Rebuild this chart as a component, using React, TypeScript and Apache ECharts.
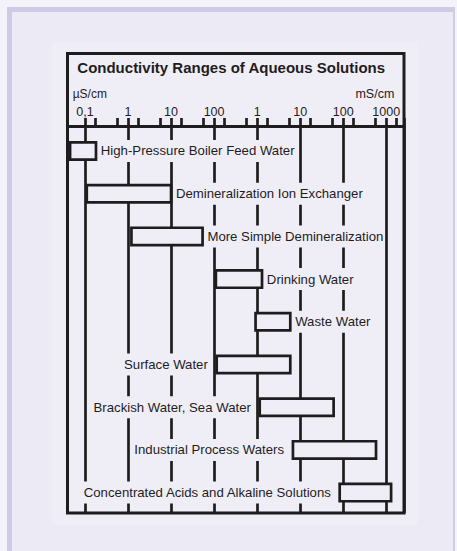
import React, { useEffect, useRef } from 'react';
import * as echarts from 'echarts';

// Conductivity ranges, in µS/cm
const rowNames = [
  'High-Pressure Boiler Feed Water',
  'Demineralization Ion Exchanger',
  'More Simple Demineralization',
  'Drinking Water',
  'Waste Water',
  'Surface Water',
  'Brackish Water, Sea Water',
  'Industrial Process Waters',
  'Concentrated Acids and Alkaline Solutions',
];
const rangeLow = [0.045, 0.11, 1.2, 110, 920, 115, 1150, 6800, 83000];
const rangeHigh = [0.18, 10, 54, 1300, 5900, 5900, 60000, 580000, 1300000];
const labelSide = ['right', 'right', 'right', 'right', 'right', 'left', 'left', 'left', 'left'];

const majorTickValues = [0.1, 1, 10, 100, 1000, 10000, 100000, 1000000];
const majorTickLabels = ['0,1', '1', '10', '100', '1', '10', '100', '1000'];
const minorTickValues = [
  0.17, 0.55, 1.7, 5.5, 17, 55, 170, 550, 1700, 5500, 17000, 55000, 170000, 550000, 1700000,
];
const unitLeft = 'µS/cm';
const unitRight = 'mS/cm';
const titleText = 'Conductivity Ranges of Aqueous Solutions';

const axisMin = 0.0392;
const axisMax = 2593000;

const INK = '#1f1c1d';
const PANEL = '#efeef7';
const FONT = '"Liberation Sans", Arial, Helvetica, sans-serif';

function tickLabel(v: number): string {
  for (let i = 0; i < majorTickValues.length; i++) {
    if (Math.abs(Math.log10(v) - Math.log10(majorTickValues[i])) < 0.01) return majorTickLabels[i];
  }
  return '';
}

export default function App() {
  const ref = useRef<HTMLDivElement>(null);
  useEffect(() => {
    if (!ref.current) return;
    const chart = echarts.init(ref.current, undefined, { renderer: 'svg', width: 457, height: 551 });
    const data = rowNames.map((n, i) => [rangeLow[i], rangeHigh[i], i]);
    const gridBox = { left: 67.5, right: 53, top: 126, bottom: 38 };
    const option: any = {
      animation: false,
      backgroundColor: 'transparent',
      grid: [
        { ...gridBox, containLabel: false },
        { ...gridBox, containLabel: false },
      ],
      xAxis: [
        {
          type: 'log',
          gridIndex: 0,
          position: 'top',
          min: axisMin,
          max: axisMax,
          axisLine: { show: true, onZero: false, lineStyle: { color: INK, width: 3 } },
          axisTick: { show: true, inside: false, length: 8, lineStyle: { color: INK, width: 2.7 } },
          axisLabel: {
            show: true,
            margin: 8,
            formatter: (v: number) => tickLabel(v),
            color: INK,
            fontSize: 12.5,
            fontFamily: FONT,
          },
          splitLine: { show: true, lineStyle: { color: INK, width: 2.7 } },
        },
        {
          type: 'log',
          gridIndex: 1,
          position: 'top',
          min: axisMin,
          max: axisMax,
          axisLine: { show: false, onZero: false },
          axisTick: {
            show: true,
            inside: false,
            length: 8,
            customValues: minorTickValues,
            lineStyle: { color: INK, width: 2.7 },
          },
          axisLabel: { show: false },
          splitLine: { show: false },
        },
      ],
      yAxis: [
        { type: 'value', gridIndex: 0, inverse: true, min: -0.585, max: 8.478, show: false },
        { type: 'value', gridIndex: 1, inverse: true, min: -0.585, max: 8.478, show: false },
      ],
      graphic: [
        { type: 'rect', z: -100, silent: true, shape: { x: 0, y: 0, width: 457, height: 551 }, style: { fill: '#f4f3f9' } },
        { type: 'rect', z: -99, silent: true, shape: { x: 7, y: 7, width: 448, height: 544 }, style: { fill: '#cfcbe5' } },
        { type: 'rect', z: -98, silent: true, shape: { x: 12, y: 12, width: 441, height: 539 }, style: { fill: '#eceaf4' } },
        { type: 'rect', z: -97, silent: true, shape: { x: 52, y: 42, width: 366, height: 483 }, style: { fill: PANEL } },
        {
          type: 'rect', z: 100, silent: true,
          shape: { x: 67.5, y: 53.5, width: 336.5, height: 459.5 },
          style: { fill: 'none', stroke: INK, lineWidth: 3 },
        },
        {
          type: 'text', z: 100, x: 77.3, y: 67.5,
          style: {
            text: titleText, fill: INK, font: `bold 15px ${FONT}`,
            textAlign: 'left', align: 'left', textVerticalAlign: 'middle', verticalAlign: 'middle',
          },
        },
        {
          type: 'text', z: 100, x: 72.7, y: 93.5,
          style: {
            text: unitLeft, fill: INK, font: `12px ${FONT}`,
            textAlign: 'left', align: 'left', textVerticalAlign: 'middle', verticalAlign: 'middle',
          },
        },
        {
          type: 'text', z: 100, x: 394.3, y: 93.5,
          style: {
            text: unitRight, fill: INK, font: `12.5px ${FONT}`,
            textAlign: 'right', align: 'right', textVerticalAlign: 'middle', verticalAlign: 'middle',
          },
        },
      ],
      series: [
        {
          type: 'custom',
          xAxisIndex: 0,
          yAxisIndex: 0,
          clip: false,
          encode: { x: [0, 1], y: 2 },
          data,
          renderItem: (params: any, api: any) => {
            const i = params.dataIndex;
            const lo = api.coord([api.value(0), api.value(2)]);
            const hi = api.coord([api.value(1), api.value(2)]);
            const h = 17.3;
            const right = labelSide[i] === 'right';
            const tx = right ? hi[0] + 1.35 + 2.5 : lo[0] - 1.35 - 6.5;
            return {
              type: 'group',
              children: [
                {
                  type: 'rect',
                  shape: { x: lo[0], y: lo[1] - h / 2, width: hi[0] - lo[0], height: h },
                  style: { fill: PANEL, stroke: INK, lineWidth: 2.7 },
                },
                {
                  type: 'text',
                  style: {
                    text: rowNames[i],
                    x: tx,
                    y: lo[1],
                    fill: INK,
                    font: `13.2px ${FONT}`,
                    textAlign: right ? 'left' : 'right',
                    align: right ? 'left' : 'right',
                    textVerticalAlign: 'middle',
                    verticalAlign: 'middle',
                    backgroundColor: PANEL,
                    padding: [4.5, 1],
                  },
                },
              ],
            };
          },
        },
      ],
    };
    chart.setOption(option);
    return () => chart.dispose();
  }, []);
  return (
    <div
      ref={ref}
      style={{ position: 'absolute', left: 0, top: 0, width: 457, height: 551 }}
    />
  );
}
